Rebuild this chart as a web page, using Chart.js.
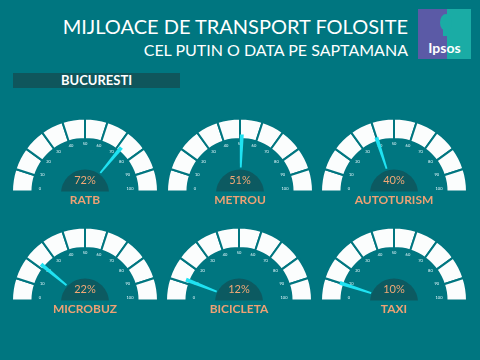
<!DOCTYPE html>
<html>
<head>
<meta charset="utf-8">
<script src="https://cdn.jsdelivr.net/npm/chart.js@4/dist/chart.umd.min.js"></script>
<style>
  body { margin:0; width:480px; height:360px; background:#007680; overflow:hidden; position:relative; font-family:Lato, 'Open Sans', sans-serif; }
  .title { position:absolute; right:72px; top:14px; color:#fff; font-size:20px; line-height:24px; white-space:nowrap; }
  .subtitle { position:absolute; right:72px; top:40px; color:#fff; font-size:16px; line-height:20px; white-space:nowrap; }
  .city { position:absolute; left:13px; top:73px; width:167px; height:15px; background:#0f565c; color:#fff; font-weight:bold; font-size:13px; line-height:15px; text-align:center; }
  .logo { position:absolute; left:418px; top:9px; width:53px; height:50px; background:linear-gradient(90deg,#5b5aa6 0,#5b5aa6 55%,#1aaca5 55%); overflow:hidden; }
  .logo .head { position:absolute; left:22px; top:5px; width:12px; height:17px; border-radius:50%; background:#1aaca5; }
  .logo .neck { position:absolute; left:25px; top:18px; width:7px; height:9px; background:#1aaca5; }
  .logo .txt { position:absolute; left:0; width:53px; top:30px; text-align:center; color:#fff; font-weight:bold; font-size:14px; }
  canvas { position:absolute; }
</style>
</head>
<body>
<div class="title">MIJLOACE DE TRANSPORT FOLOSITE</div>
<div class="subtitle">CEL PUTIN O DATA PE SAPTAMANA</div>
<div class="logo"><div class="head"></div><div class="neck"></div><div class="txt">Ipsos</div></div>
<div class="city">BUCURESTI</div>

<canvas id="g0"></canvas>
<canvas id="g1"></canvas>
<canvas id="g2"></canvas>
<canvas id="g3"></canvas>
<canvas id="g4"></canvas>
<canvas id="g5"></canvas>

<script>
// data
const categories = ['RATB', 'METROU', 'AUTOTURISM', 'MICROBUZ', 'BICICLETA', 'TAXI'];
const values = [72, 51, 40, 22, 12, 10];
const tickLabels = ['0', '10', '20', '30', '40', '50', '60', '70', '80', '90', '100'];
const segments = [10, 10, 10, 10, 10, 10, 10, 10, 10, 10];

// gauge placement (centre x, base y)
const spots = [[85, 191], [240, 191], [394, 191], [85, 300], [239, 300], [394, 300]];

const BG = '#007680';
const W = 170, H = 125, R = 73;

// hub, needle, tick labels and texts
const gaugeExtras = {
    id: 'gaugeExtras',
    afterDatasetsDraw(chart) {
        const arc = chart.getDatasetMeta(0).data[0];
        if (!arc) return;
        const ctx = chart.ctx;
        const cx = arc.x, cy = arc.y;
        const i = chart.options.plugins.gaugeExtras.index;
        const v = values[i];

        ctx.save();
        // tick labels
        ctx.font = '4px Lato, sans-serif';
        ctx.fillStyle = '#e8fbff';
        ctx.textAlign = 'center';
        ctx.textBaseline = 'middle';
        tickLabels.forEach((t, k) => {
            const a = Math.PI * (1 + k / 10);
            ctx.fillText(t, cx + 45 * Math.cos(a), cy - 3 + 45 * Math.sin(a));
        });

        // hub
        ctx.beginPath();
        ctx.rect(cx - 30, cy - 30, 60, 30);
        ctx.clip();
        ctx.beginPath();
        ctx.arc(cx, cy + 2, 24, 0, Math.PI * 2);
        ctx.fillStyle = '#0c5a61';
        ctx.fill();
        ctx.restore();

        // needle
        ctx.save();
        const a = Math.PI * (1 + v / 100);
        const ux = Math.cos(a), uy = Math.sin(a);
        const px = -uy, py = ux;
        const r0 = 24, r1 = 57;
        ctx.beginPath();
        ctx.moveTo(cx + ux * r0 + px * 0.9, cy + uy * r0 + py * 0.9);
        ctx.lineTo(cx + ux * r1 + px * 2, cy + uy * r1 + py * 2);
        ctx.lineTo(cx + ux * r1 - px * 2, cy + uy * r1 - py * 2);
        ctx.lineTo(cx + ux * r0 - px * 0.9, cy + uy * r0 - py * 0.9);
        ctx.closePath();
        ctx.fillStyle = '#1fe2f2';
        ctx.fill();

        // value
        ctx.fillStyle = '#f2a876';
        ctx.textAlign = 'center';
        ctx.textBaseline = 'middle';
        ctx.font = '11px Lato, sans-serif';
        ctx.fillText(v + '%', cx, cy - 11);

        // category label
        ctx.fillStyle = '#eda174';
        ctx.font = 'bold 12px Lato, sans-serif';
        ctx.fillText(categories[i], cx, cy + 9);
        ctx.restore();
    }
};

categories.forEach((name, i) => {
    const canvas = document.getElementById('g' + i);
    const [cx, base] = spots[i];
    canvas.width = W;
    canvas.height = H;
    canvas.style.left = (cx - W / 2) + 'px';
    canvas.style.top = (base - 72 - 8) + 'px';

    new Chart(canvas.getContext('2d'), {
        type: 'doughnut',
        data: {
            labels: tickLabels.slice(1),
            datasets: [{
                data: segments,
                backgroundColor: '#fbfdfd',
                borderColor: BG,
                borderWidth: 2
            }]
        },
        options: {
            responsive: false,
            animation: false,
            rotation: -90,
            circumference: 180,
            cutout: '72%',
            radius: R,
            layout: { padding: { left: (W / 2 - 72), right: (W / 2 - 72), top: 8, bottom: H - 8 - 72 } },
            plugins: {
                legend: { display: false },
                tooltip: { enabled: false },
                gaugeExtras: { index: i }
            }
        },
        plugins: [gaugeExtras]
    });
});
</script>
</body>
</html>
